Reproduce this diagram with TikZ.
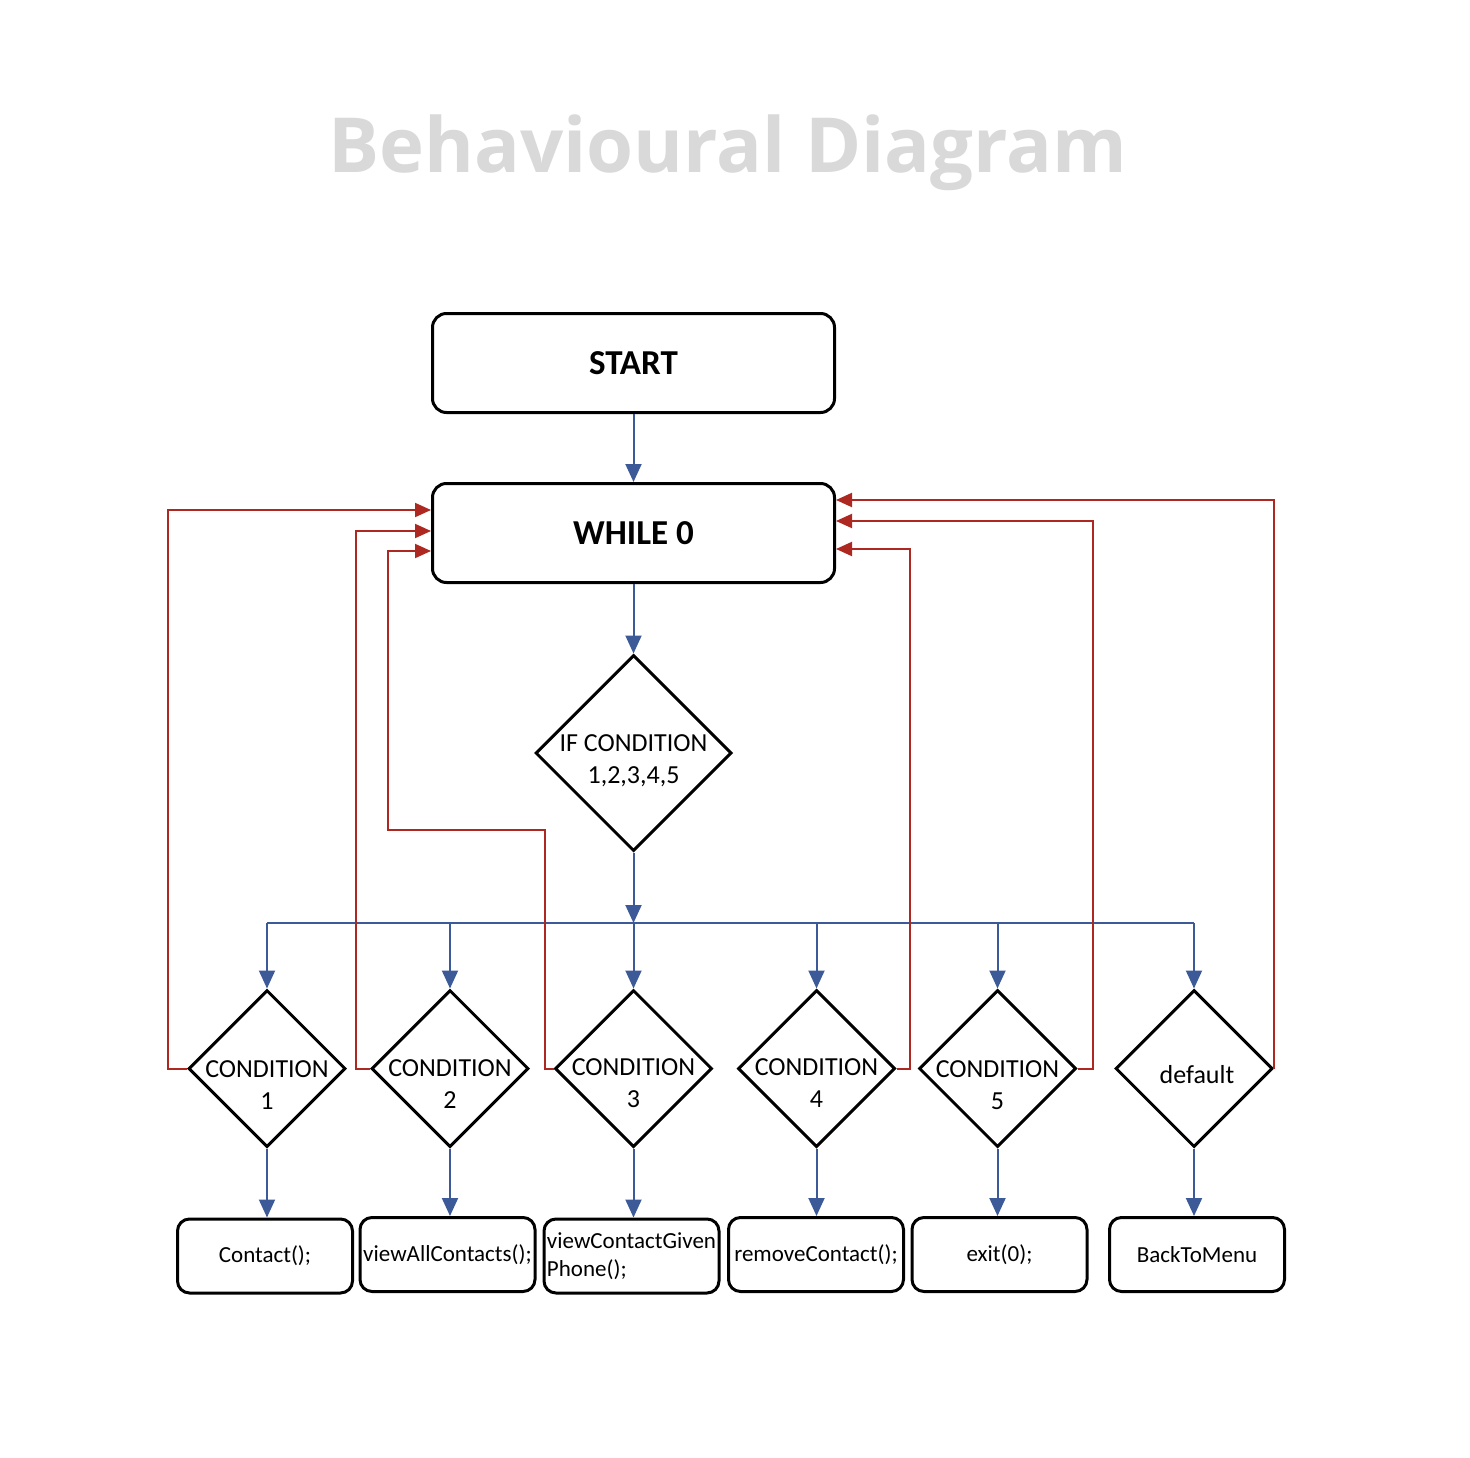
\documentclass[tikz,border=0pt]{standalone}
\usepackage{fontspec}
\setmainfont{Carlito}
\newfontfamily\titlefont{Open Sans}
\usetikzlibrary{shapes.geometric,arrows.meta}
\definecolor{flowblue}{RGB}{61,90,152}
\definecolor{loopred}{RGB}{172,40,32}
\definecolor{titlegray}{RGB}{217,217,217}

\begin{document}
\begin{tikzpicture}[
  x=1pt,y=-1pt,
  >={Triangle[length=18pt,width=16pt]},
  block/.style={rectangle,draw=black,line width=3pt,rounded corners=14pt,minimum width=402pt,minimum height=99pt,font=\fontsize{35}{40}\selectfont\bfseries},
  callbox/.style={rectangle,draw=black,line width=3pt,rounded corners=12pt,minimum width=175pt,minimum height=74pt,inner sep=1pt,font=\fontsize{23}{28}\selectfont},
  decision/.style={diamond,draw=black,line width=3pt,inner sep=0pt,minimum width=#1,minimum height=#1},
  condtext/.style={align=center,font=\fontsize{26}{32}\selectfont},
  flow/.style={->,draw=flowblue,line width=2pt},
  back/.style={-{Triangle[length=16pt,width=14pt]},draw=loopred,line width=2pt}
]

\fill[white] (0,0) rectangle (1470,1458);
\useasboundingbox (0,0) rectangle (1470,1458);

\node[font=\titlefont\fontsize{76}{80}\selectfont\bfseries,text=titlegray,anchor=base] (title) at (728,173) {Behavioural Diagram};

\node[block] (start) at (633.5,363) {START};
\node[block] (while) at (633.5,533) {WHILE 0};

\node[decision=196pt] (if) at (633.5,753) {};
\node[condtext] (iftext) at ([yshift=-8pt]if.center) {IF CONDITION\\1,2,3,4,5};
\coordinate (bus) at (633.5,923);

% one diamond per case
\foreach \name/\x in {c1/267,c2/450,c3/633.5,c4/816.5,c5/997.5,dflt/1194}
  \node[decision=157pt] (\name) at (\x,1068.5) {};

\node[condtext] (c1t) at ([yshift=-17pt]c1.center) {CONDITION\\1};
\node[condtext] (c2t) at ([yshift=-16pt]c2.center) {CONDITION\\2};
\node[condtext] (c3t) at ([yshift=-15pt]c3.center) {CONDITION\\3};
\node[condtext] (c4t) at ([yshift=-15pt]c4.center) {CONDITION\\4};
\node[condtext] (c5t) at ([yshift=-17pt]c5.center) {CONDITION\\5};
\node[condtext] (dfltt) at ([xshift=3pt,yshift=-6pt]dflt.center) {default};

\node[callbox] (contact) at (265,1256) {Contact();};
\node[callbox] (viewall) at (447.5,1254.5) {viewAllContacts();};
\node[callbox,align=left] (viewphone) at (631.5,1256) {viewContactGiven\\Phone();};
\node[callbox] (remove) at (816,1254.5) {removeContact();};
\node[callbox] (exit) at (999.5,1254.5) {exit(0);};
\node[callbox] (menu) at (1197,1254.5) {BackToMenu};

% main flow
\draw[flow] (start) -- (while);
\draw[flow] (while) -- (if);
\draw[flow] (if) -- (bus);
\draw[flowblue,line width=2pt] (bus -| c1) -- (bus -| dflt);
\foreach \name in {c1,c2,c3,c4,c5,dflt}
  \draw[flow] (bus -| \name) -- (\name);
\foreach \name/\call in {c1/contact,c2/viewall,c3/viewphone,c4/remove,c5/exit,dflt/menu}
  \draw[flow] (\name) -- (\name |- \call.north);

% loops back to the while
\draw[back] (c1.west) -| (168,510) -- ([yshift=23pt]while.west);
\draw[back] (c2.west) -| (356,531) -- ([yshift=2pt]while.west);
\draw[back] (c3.west) -| (545,830) -| (388,551) -- ([yshift=-18pt]while.west);
\draw[back] (c4.east) -| (910,549) -- ([yshift=-16pt]while.east);
\draw[back] (c5.east) -| (1093,521) -- ([yshift=12pt]while.east);
\draw[back] (dflt.east) |- ([yshift=33pt]while.east);

\end{tikzpicture}
\end{document}
